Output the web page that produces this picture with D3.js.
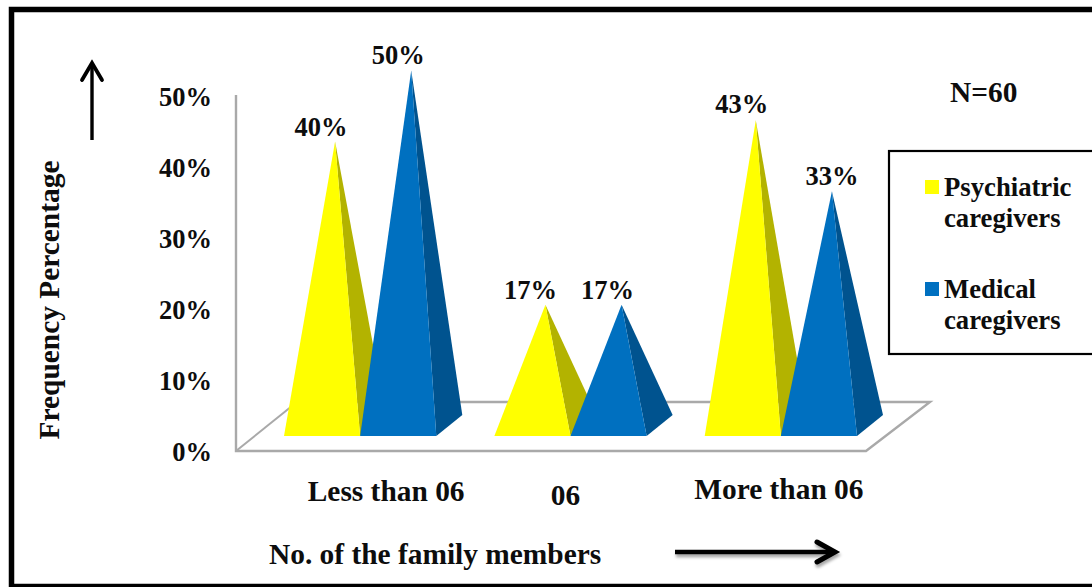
<!DOCTYPE html>
<html>
<head>
<meta charset="utf-8">
<script src="https://cdn.jsdelivr.net/npm/d3@7"></script>
<style>
html,body{margin:0;padding:0;background:#fff;overflow:hidden}
text{font-family:"Liberation Serif","Times New Roman",serif;font-weight:bold;fill:#0d0d0d}
</style>
</head>
<body>
<svg id="chart" width="1092" height="587"></svg>
<script>
const categories = ["Less than 06", "06", "More than 06"];
const seriesNames = ["Psychiatric caregivers", "Medical caregivers"];
const psychiatric = [40, 17, 43];
const medical = [50, 17, 33];
const tickValues = [0, 10, 20, 30, 40, 50];

const seriesStyle = [
  {front: "#ffff00", side: "#b3b300", legend: ["Psychiatric", "caregivers"]},
  {front: "#0070c0", side: "#00538f", legend: ["Medical", "caregivers"]}
];

const svg = d3.select("#chart");

// Outer frame runs off the right edge of the page
svg.append("rect").attr("x", 11.5).attr("y", 9.5).attr("width", 1100).attr("height", 577)
  .attr("fill", "none").attr("stroke", "#000").attr("stroke-width", 5.5);

const defs = svg.append("defs");
const shadow = defs.append("filter").attr("id", "arrowShadow")
  .attr("x", "-10%").attr("y", "-50%").attr("width", "120%").attr("height", "250%");
shadow.append("feDropShadow").attr("dx", 1).attr("dy", 3).attr("stdDeviation", 1.6)
  .attr("flood-color", "#000").attr("flood-opacity", 0.35);

// Scales: height is measured from the base plane, depth is a fixed oblique offset
const height = d3.scaleLinear().domain([0, 50]).range([0, 355]);
const x0 = d3.scaleBand().domain(categories).range([284, 857]).paddingInner(0.276).paddingOuter(0);
const x1 = d3.scaleBand().domain(seriesNames).range([0, x0.bandwidth()]);
const floorY = 451, baseY = 436;
const depth = {dx: 26, dy: -21};
const yAxisScale = d3.scaleLinear().domain([0, 50]).range([floorY, floorY - 355]);

// Back wall line and floor parallelogram
const gray = "#a9a9a9";
svg.append("path")
  .attr("d", "M236,95 L236,451 L866,451 L930,402 L297,402")
  .attr("fill", "none").attr("stroke", gray).attr("stroke-width", 2.4);
svg.append("path").attr("d", "M236,451 L297,402")
  .attr("fill", "none").attr("stroke", gray).attr("stroke-width", 2);

// Value axis labels
const axis = d3.axisLeft(yAxisScale).tickValues(tickValues).tickSize(0).tickPadding(0)
  .tickFormat(d => d + "%");
const axisG = svg.append("g").attr("transform", "translate(212,0)").call(axis);
axisG.select(".domain").remove();
axisG.selectAll("text").style("font-size", "26.5px").attr("font-size", null)
  .style("font-family", '"Liberation Serif",serif').attr("dy", "0.34em");

// Pyramids: front face plus right-hand side face, both meeting at the apex
const rows = [psychiatric, medical];
const pyramids = svg.append("g");
categories.forEach((cat, c) => {
  seriesNames.forEach((name, s) => {
    const v = rows[s][c], left = x0(cat) + x1(name), right = left + x1.bandwidth();
    const apexX = (left + right) / 2 + depth.dx / 2;
    const apexY = baseY + depth.dy / 2 - height(v);
    const g = pyramids.append("g");
    const pts = a => a.map(p => p.join(",")).join(" ");
    g.append("polygon").attr("fill", seriesStyle[s].side)
      .attr("points", pts([[right, baseY], [right + depth.dx, baseY + depth.dy], [apexX, apexY]]));
    g.append("polygon").attr("fill", seriesStyle[s].front)
      .attr("points", pts([[left, baseY], [right, baseY], [apexX, apexY]]));
  });
});

// Value labels sit above each apex, shifted a little left except the last one
const labelNudge = [[-14, -15], [-13, -16], [-15, -15], [-14, -15], [-14, -16], [0, -15]];
categories.forEach((cat, c) => {
  seriesNames.forEach((name, s) => {
    const v = rows[s][c], left = x0(cat) + x1(name);
    const cx = left + x1.bandwidth() / 2 + depth.dx / 2;
    const cy = baseY + depth.dy / 2 - height(v);
    const nudge = labelNudge[c * 2 + s];
    svg.append("text").attr("x", cx + nudge[0]).attr("y", cy + nudge[1])
      .attr("text-anchor", "middle").attr("dominant-baseline", "central")
      .style("font-size", "26.5px").text(v + "%");
  });
});

// Category labels
const catOffset = [[26, 491], [-5, 495], [-2, 489]];
categories.forEach((cat, c) => {
  svg.append("text").attr("x", x0(cat) + x0.bandwidth() / 2 + catOffset[c][0]).attr("y", catOffset[c][1])
    .attr("text-anchor", "middle").attr("dominant-baseline", "central")
    .style("font-size", "29.4px").text(cat);
});

// Axis titles
svg.append("text").attr("transform", "translate(49,300) rotate(-90)")
  .attr("text-anchor", "middle").attr("dominant-baseline", "central")
  .style("font-size", "29.4px").text("Frequency Percentage");
svg.append("text").attr("x", 269).attr("y", 554).attr("dominant-baseline", "central")
  .style("font-size", "29.4px").text("No. of the family members");
svg.append("text").attr("x", 950).attr("y", 92).attr("dominant-baseline", "central")
  .style("font-size", "29.4px").text("N=60");

// Direction arrows beside the axis titles
const arrow = d3.line();
svg.append("path").attr("d", arrow([[92, 140], [92, 63]]))
  .attr("stroke", "#000").attr("stroke-width", 3.4).attr("fill", "none");
svg.append("path").attr("d", arrow([[82, 80], [92, 63], [102, 80]]))
  .attr("stroke", "#000").attr("stroke-width", 3.8).attr("fill", "none").attr("stroke-linecap", "round");
const hArrow = svg.append("g").attr("filter", "url(#arrowShadow)");
hArrow.append("path").attr("d", arrow([[675, 552], [835, 552]]))
  .attr("stroke", "#000").attr("stroke-width", 4.5).attr("fill", "none");
hArrow.append("path").attr("d", arrow([[817, 542], [835, 552], [817, 562]]))
  .attr("stroke", "#000").attr("stroke-width", 5).attr("fill", "none").attr("stroke-linecap", "round");

// Legend box, also open at the page edge
svg.append("rect").attr("x", 889).attr("y", 151).attr("width", 240).attr("height", 203)
  .attr("fill", "#fff").attr("stroke", "#000").attr("stroke-width", 2.2);
const legendY = [[180, 187, 218], [282, 289, 320]];
seriesStyle.forEach((st, i) => {
  svg.append("rect").attr("x", 925).attr("y", legendY[i][0]).attr("width", 14).attr("height", 14).attr("fill", st.front);
  st.legend.forEach((line, j) => {
    svg.append("text").attr("x", 944).attr("y", legendY[i][j + 1]).attr("dominant-baseline", "central")
      .style("font-size", "26.7px").text(line);
  });
});
</script>
</body>
</html>
